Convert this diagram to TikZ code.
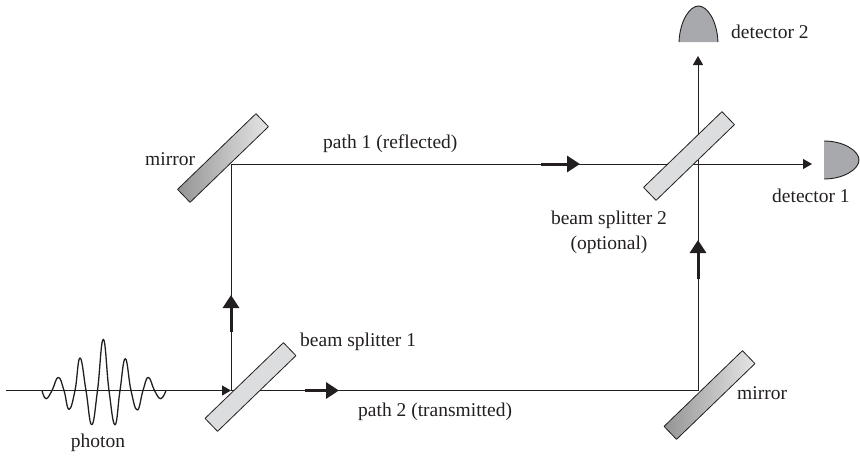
\documentclass[tikz,border=0pt]{standalone}
\usepackage{fontspec}
\setmainfont{Liberation Serif}
\usetikzlibrary{arrows.meta}
\definecolor{inkline}{HTML}{231F20}
\definecolor{platefill}{HTML}{DCDDDE}
\definecolor{detfill}{HTML}{A7A9AC}
\tikzset{
  plate/.style={draw=inkline, line width=0.8pt, minimum width=109pt, minimum height=18pt,
    inner sep=0pt, rotate=44},
  splitter/.style={plate, fill=platefill},
  mirror/.style={plate, left color=black!42, right color=black!10},
  beam/.style={draw=inkline, line width=0.9pt},
  beamtip/.style={beam, -{Triangle[length=9pt,width=10pt]}},
  fatarrow/.style={draw=inkline, line width=3pt, -{Triangle[length=13pt,width=16pt]}},
  detector/.style={draw=inkline, line width=0.9pt},
  lbl/.style={font=\fontsize{19.5}{19.5}\selectfont, text=inkline, inner sep=0pt}
}
\begin{document}
\begin{tikzpicture}[x=1pt, y=-1pt, line join=round]

\useasboundingbox (0,0) rectangle (860,456);

% Beam corners
\coordinate (source) at (6,390.5);
\coordinate (hitA) at (231,390.5);
\coordinate (hitB) at (231,164);
\coordinate (hitC) at (698,390.5);
\coordinate (hitD) at (698,164);
\coordinate (endA) at (812,164);
\coordinate (endB) at (698,56);

% Beams
\draw[beamtip] (source) -- (hitA);
\draw[beam] (hitA) -- (hitB) -- (hitD);
\draw[beam] (hitA) -- (hitC) -- (hitD);
\draw[beamtip] (hitD) -- (endA);
\draw[beamtip] (hitD) -- (endB);

% Thick direction arrows
\draw[fatarrow] (231,332) -- (231,295);
\draw[fatarrow] (541,164) -- (580,164);
\draw[fatarrow] (305,390.5) -- (339,390.5);
\draw[fatarrow] (698,279) -- (698,240);

% Wave packet
\draw[draw=inkline, line width=1.3pt] plot[smooth, tension=0.75] coordinates {
  (42,390.5) (46,398.7) (52,390.5) (58.3,377.3) (64,390.5) (69,409.3) (75,390.5)
  (80,358) (86,390.5) (91.7,424.7) (97.5,390.5) (103.3,339.3) (109,390.5)
  (115,424.7) (120,390.5) (125.3,358.7) (131,390.5) (137.3,410) (143,390.5)
  (148.3,377.3) (154.5,390.5) (160.7,398.7) (166,390.5)};

% Plates go on top of the beams
\node[splitter] (bsA) at (250.5,387) {};
\node[splitter] (bsB) at (689,156) {};
\node[mirror] (mirrorA) at (223,158) {};
\node[mirror] (mirrorB) at (709.5,395) {};

% Detectors
\fill[detfill] (679,42) .. controls (680,20) and (690,6) .. (698.5,6)
  .. controls (707,6) and (717,20) .. (718,42) -- cycle;
\draw[detector] (679,42) .. controls (680,20) and (690,6) .. (698.5,6)
  .. controls (707,6) and (717,20) .. (718,42);
\fill[detfill] (824,141) .. controls (844,141) and (859,151) .. (859,160)
  .. controls (859,169) and (844,179) .. (824,179) -- cycle;
\draw[detector] (824,141) .. controls (844,141) and (859,151) .. (859,160)
  .. controls (859,169) and (844,179) .. (824,179);

% Labels
\node[lbl] (photonlbl) at (98,443) {photon};
\node[lbl, anchor=west] (bsAlbl) at (300,342) {beam splitter 1};
\node[lbl, anchor=west] (pathBlbl) at (358,412) {path 2 (transmitted)};
\node[lbl, anchor=west] (pathAlbl) at (323,144) {path 1 (reflected)};
\node[lbl, anchor=west] (mirrorAlbl) at (145,159) {mirror};
\node[lbl, anchor=west] (mirrorBlbl) at (737,393) {mirror};
\node[lbl, anchor=west] (detBlbl) at (731,32) {detector 2};
\node[lbl, anchor=west] (detAlbl) at (772,196) {detector 1};
\node[lbl] (bsBlbl) at (609,220) {beam splitter 2};
\node[lbl] (optlbl) at (609,245) {(optional)};

\end{tikzpicture}
\end{document}
